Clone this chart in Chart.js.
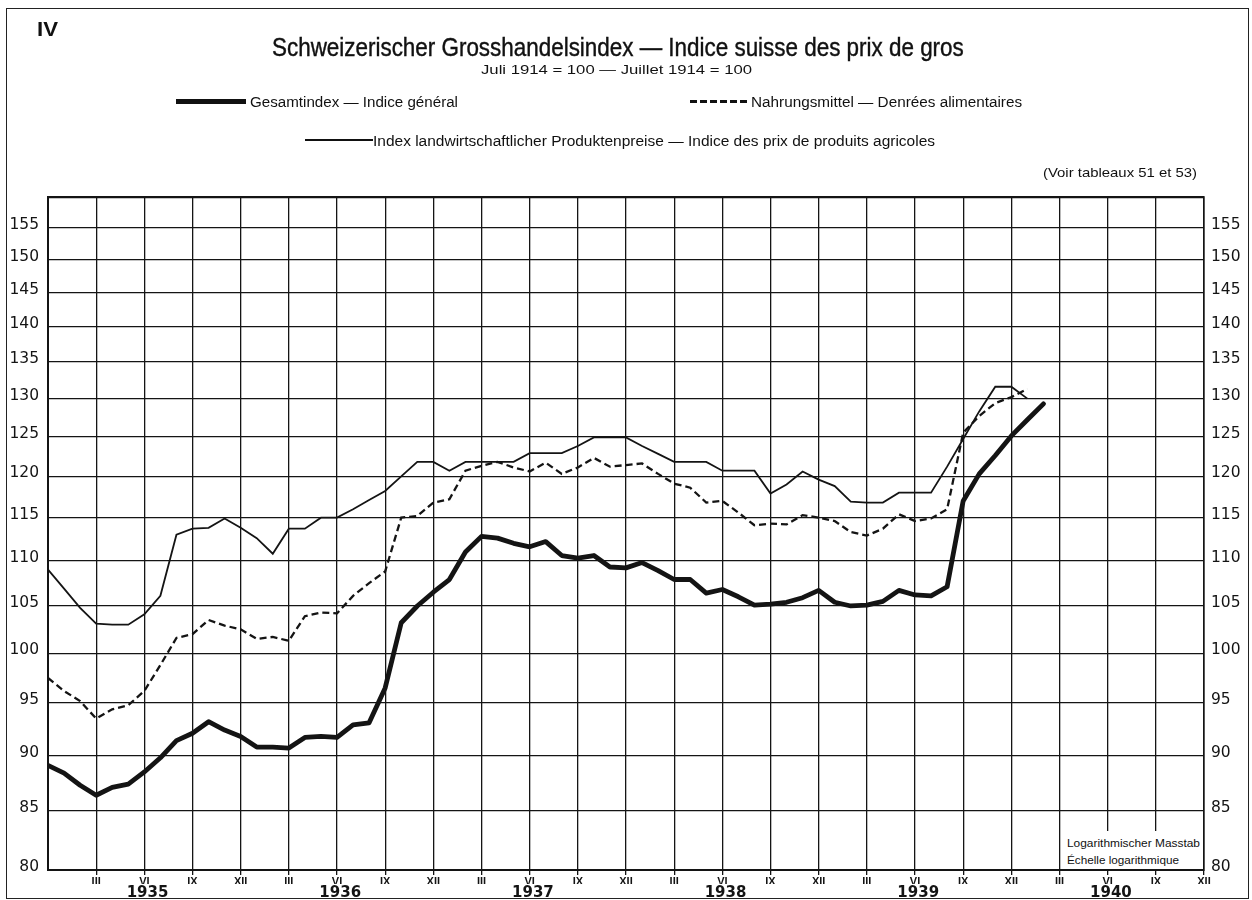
<!DOCTYPE html>
<html>
<head>
<meta charset="utf-8">
<script src="https://cdn.jsdelivr.net/npm/chart.js@4.4.1/dist/chart.umd.min.js"></script>
<style>
  html, body { margin: 0; padding: 0; background: #fff; }
  #page { position: relative; width: 1252px; height: 900px; overflow: hidden;
          font-family: 'Liberation Sans', Arial, sans-serif; color: #111; }
  #frame { position: absolute; left: 6px; top: 8px; width: 1243px; height: 891px;
           border: 1.5px solid #222; box-sizing: border-box; }
  canvas { position: absolute; left: 0; top: 0; }
  .t { position: absolute; white-space: nowrap; line-height: 1; transform-origin: 0 50%; }
  .key { position: absolute; background: #111; }
  .dash { position: absolute; height: 2.5px;
          background: repeating-linear-gradient(90deg, #111 0 7px, transparent 7px 10px); }
  #logbox { position: absolute; left: 1061px; top: 831px; width: 142px; height: 38px; background: #fff; }
</style>
</head>
<body>
<div id="page">
  <div id="frame"></div>
  <canvas id="chart" width="1252" height="900"></canvas>
  <div id="logbox"></div>

  <div class="t" style="left:37px;top:28px;font-size:21px;font-weight:bold" data-w="21">IV</div>
  <div class="t" style="left:272px;top:47px;font-size:25px;-webkit-text-stroke:0.4px #111" data-w="692">Schweizerischer Grosshandelsindex — Indice suisse des prix de gros</div>
  <div class="t" style="left:481px;top:70px;font-size:12px" data-w="271">Juli 1914 = 100 — Juillet 1914 = 100</div>

  <div class="key" style="left:176px;top:99px;width:70px;height:5px"></div>
  <div class="t" style="left:250px;top:102px;font-size:14px" data-w="208">Gesamtindex — Indice général</div>
  <div class="dash" style="left:690px;top:100px;width:59px"></div>
  <div class="t" style="left:751px;top:102px;font-size:14px" data-w="271">Nahrungsmittel — Denrées alimentaires</div>
  <div class="key" style="left:305px;top:139px;width:68px;height:1.5px"></div>
  <div class="t" style="left:373px;top:141px;font-size:14px" data-w="562">Index landwirtschaftlicher Produktenpreise — Indice des prix de produits agricoles</div>

  <div class="t" style="left:1043px;top:172px;font-size:13px" data-w="154">(Voir tableaux 51 et 53)</div>

  <div class="t" style="left:1067px;top:843px;font-size:11px" data-w="133">Logarithmischer Masstab</div>
  <div class="t" style="left:1067px;top:860px;font-size:11px" data-w="112">Échelle logarithmique</div>
</div>

<script>
// monthly values, first entry = December 1934
const gesamtIndex = [
  89.1, 88.4, 87.3, 86.4, 87.1, 87.4, 88.5, 89.8, 91.4, 92.1,
  93.2, 92.4, 91.8, 90.8, 90.8, 90.7, 91.7, 91.8, 91.7, 92.9,
  93.1, 96.5, 103.2, 105.0, 106.5, 107.9, 111.0, 112.8, 112.6, 112.0,
  111.6, 112.2, 110.6, 110.3, 110.6, 109.3, 109.2, 109.8, 108.9, 107.9,
  107.9, 106.4, 106.8, 106.0, 105.1, 105.2, 105.4, 105.9, 106.7, 105.4,
  105.0, 105.1, 105.5, 106.7, 106.2, 106.1, 107.1, 117.0, 120.3, 122.6,
  125.1, 127.2, 129.3
];
const nahrungsmittel = [
  97.5, 96.2, 95.2, 93.5, 94.4, 94.8, 96.2, 98.8, 101.6, 102.0,
  103.5, 102.9, 102.5, 101.5, 101.7, 101.3, 103.9, 104.3, 104.2, 106.1,
  107.5, 108.8, 115.0, 115.2, 116.8, 117.2, 120.7, 121.3, 121.8, 121.1,
  120.6, 121.7, 120.3, 121.1, 122.3, 121.2, 121.4, 121.6, 120.3, 119.1,
  118.6, 116.8, 117.0, 115.6, 114.1, 114.3, 114.2, 115.3, 115.0, 114.6,
  113.3, 112.9, 113.7, 115.4, 114.6, 114.9, 116.0, 125.5, 127.7, 129.4,
  130.2, 131.3
];
const agrarpreise = [
  109.0, 106.9, 104.8, 103.1, 103.0, 103.0, 104.1, 106.1, 113.0, 113.7,
  113.8, 114.9, 113.8, 112.6, 110.8, 113.7, 113.7, 115.0, 115.0, 116.0,
  117.1, 118.2, 120.0, 121.8, 121.8, 120.7, 121.8, 121.8, 121.8, 121.8,
  122.9, 122.9, 122.9, 123.8, 124.9, 124.9, 124.9, 123.8, 122.8, 121.8,
  121.8, 121.8, 120.7, 120.7, 120.7, 117.9, 119.0, 120.6, 119.6, 118.8,
  116.9, 116.8, 116.8, 118.0, 118.0, 118.0, 121.2, 124.7, 128.3, 131.6,
  131.6, 130.0
];

const years = ['1935', '1936', '1937', '1938', '1939', '1940'];
const quarterLabels = ['III', 'VI', 'IX', 'XII'];
const yTicks = [80, 85, 90, 95, 100, 105, 110, 115, 120, 125, 130, 135, 140, 145, 150, 155, 160];

const toPoints = arr => arr.map((v, i) => ({ x: i, y: v }));
const ink = '#141414';

const yTickOpts = {
  color: ink,
  font: { family: 'DejaVu Sans', size: 15.5 },
  labelOffset: -3,
  callback: v => (v === 160 ? '' : String(v))
};

new Chart(document.getElementById('chart'), {
  type: 'line',
  data: {
    datasets: [
      { data: toPoints(agrarpreise), borderColor: ink, borderWidth: 1.8 },
      { data: toPoints(nahrungsmittel), borderColor: ink, borderWidth: 2.3, borderDash: [7, 4] },
      { data: toPoints(gesamtIndex), borderColor: ink, borderWidth: 4.8,
        borderJoinStyle: 'round', borderCapStyle: 'round' }
    ]
  },
  options: {
    responsive: false,
    animation: false,
    events: [],
    layout: { padding: { top: 197, left: 0, right: 0, bottom: 0 } },
    elements: { point: { radius: 0 }, line: { tension: 0, fill: false } },
    plugins: { legend: { display: false }, tooltip: { enabled: false }, title: { display: false } },
    scales: {
      x: {
        type: 'linear', min: 0, max: 72, position: 'bottom', weight: 0,
        afterBuildTicks: s => { s.ticks = []; for (let m = 3; m <= 72; m += 3) s.ticks.push({ value: m }); },
        afterFit: s => { s.height = 14; },
        ticks: {
          color: ink, padding: 0, maxRotation: 0, autoSkip: false,
          font: { family: 'Liberation Sans', size: 11, weight: 'bold' },
          callback: v => quarterLabels[(v / 3 - 1) % 4]
        },
        grid: { color: ink, lineWidth: 1.3, tickLength: 5, tickColor: ink },
        border: { display: true, color: ink, width: 2 }
      },
      x2: {
        type: 'linear', min: 0, max: 72, position: 'bottom', weight: 1,
        afterBuildTicks: s => { s.ticks = years.map((y, i) => ({ value: 12 * i + 6.2 })); },
        afterFit: s => { s.height = 16; },
        ticks: {
          color: ink, padding: 0, maxRotation: 0, autoSkip: false,
          font: { family: 'DejaVu Sans', size: 15, weight: 'bold' },
          callback: (v, i) => years[i]
        },
        grid: { display: false, drawTicks: false },
        border: { display: false }
      },
      y: {
        type: 'logarithmic', min: 80, max: 160, position: 'left',
        afterBuildTicks: s => { s.ticks = yTicks.map(v => ({ value: v })); },
        afterFit: s => { s.width = 48; },
        ticks: Object.assign({ padding: 9 }, yTickOpts),
        grid: { color: ink, lineWidth: c => (c.tick && c.tick.value === 160 ? 2.2 : 1.3), drawTicks: false },
        border: { display: true, color: ink, width: 2 }
      },
      y2: {
        type: 'logarithmic', min: 80, max: 160, position: 'right',
        afterBuildTicks: s => { s.ticks = yTicks.map(v => ({ value: v })); },
        afterFit: s => { s.width = 48; },
        ticks: Object.assign({ padding: 7 }, yTickOpts),
        grid: { drawOnChartArea: false, drawTicks: false },
        border: { display: true, color: ink, width: 1.6 }
      }
    }
  }
});

// squeeze the printed texts to the condensed widths of the original
document.querySelectorAll('[data-w]').forEach(el => {
  const w = el.getBoundingClientRect().width;
  const k = +el.dataset.w / w;
  el.style.transform = 'translateY(-50%) scaleX(' + k.toFixed(3) + ')';
});
</script>
</body>
</html>
